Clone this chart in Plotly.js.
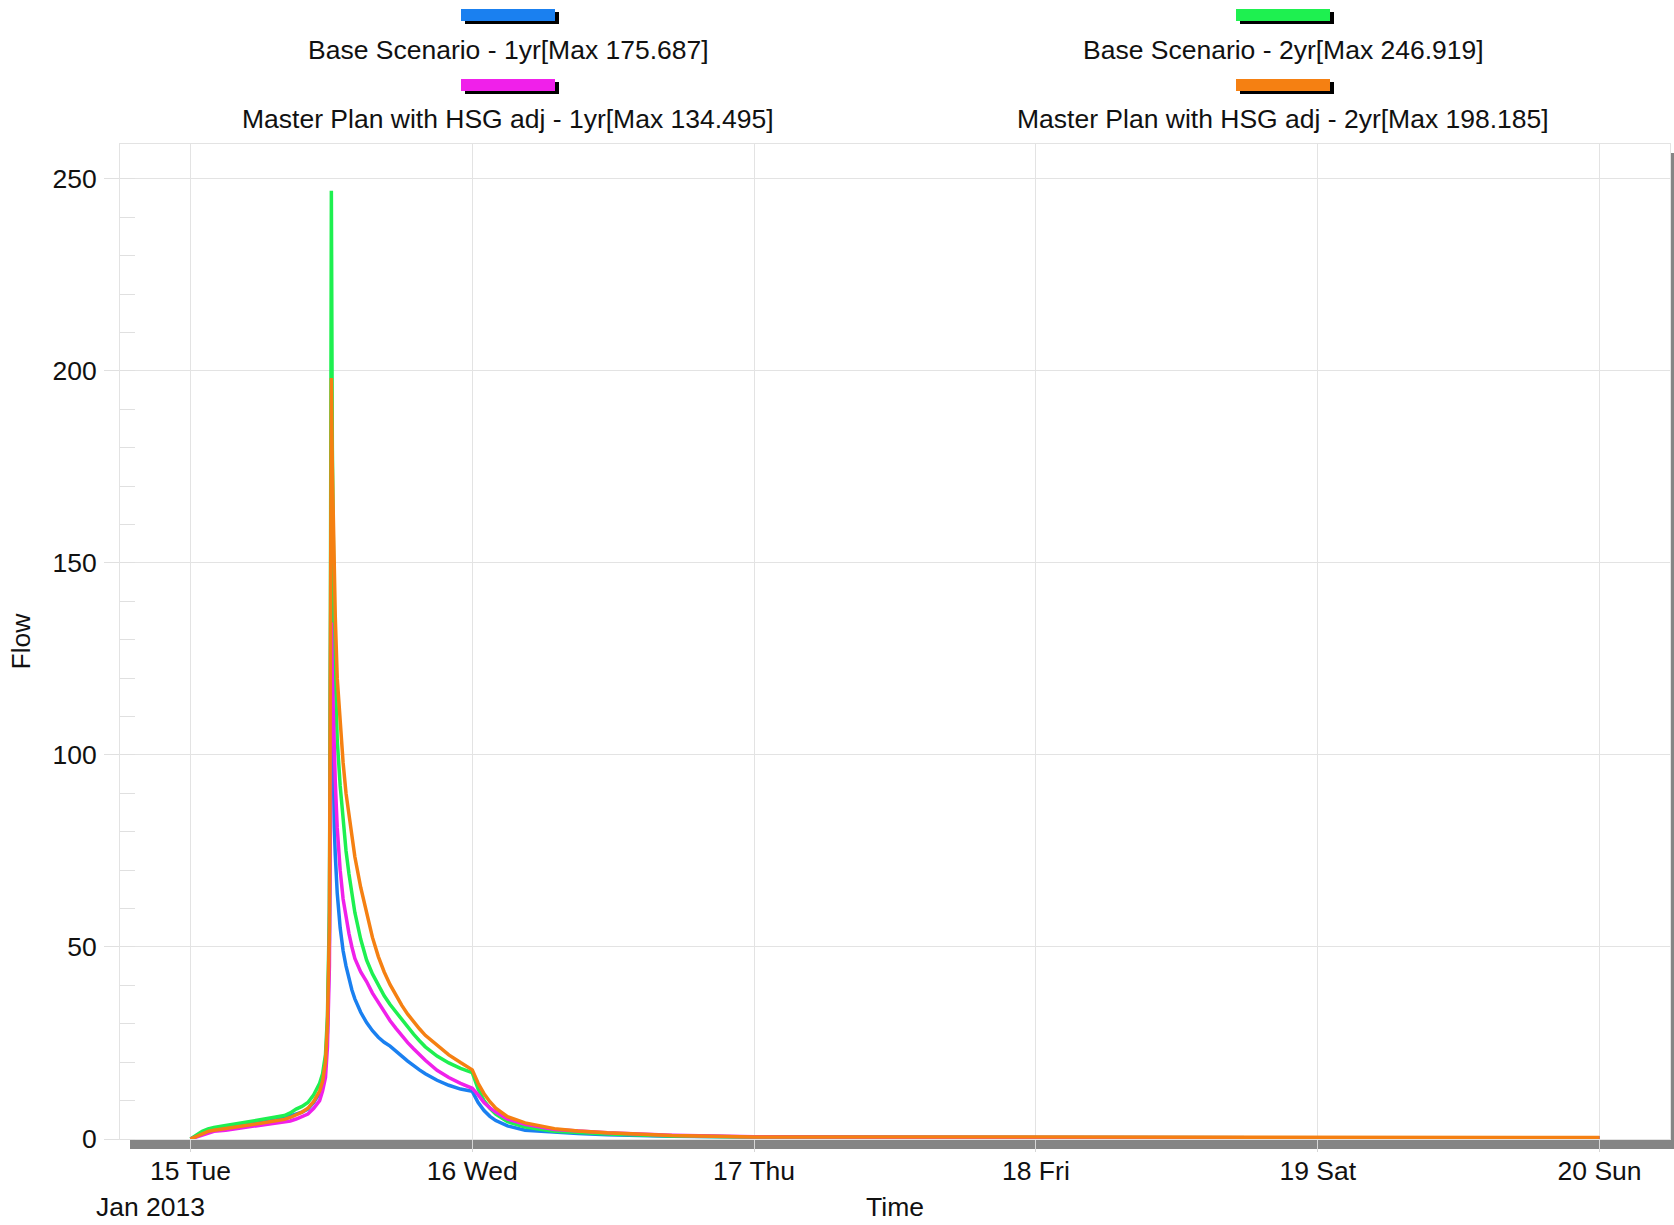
<!DOCTYPE html>
<html>
<head>
<meta charset="utf-8">
<script src="https://cdn.plot.ly/plotly-3.0.1.min.js"></script>
<style>
  html, body { margin: 0; padding: 0; background: #ffffff; }
  #chart { width: 1674px; height: 1225px; }
</style>
</head>
<body>
<div id="chart"></div>
<script>
// ---------------- DATA ----------------
const times = [
  '2013-01-15 00:00','2013-01-15 00:30','2013-01-15 01:00','2013-01-15 01:30','2013-01-15 02:00',
  '2013-01-15 03:00','2013-01-15 04:00','2013-01-15 05:00','2013-01-15 06:00','2013-01-15 07:00',
  '2013-01-15 08:00','2013-01-15 08:30','2013-01-15 09:00','2013-01-15 09:30','2013-01-15 10:00',
  '2013-01-15 10:30','2013-01-15 11:00','2013-01-15 11:15','2013-01-15 11:30',
  '2013-01-15 11:40','2013-01-15 11:50','2013-01-15 11:55','2013-01-15 12:00',
  '2013-01-15 12:05','2013-01-15 12:10','2013-01-15 12:15','2013-01-15 12:20','2013-01-15 12:30','2013-01-15 12:45',
  '2013-01-15 13:00','2013-01-15 13:15','2013-01-15 13:30','2013-01-15 13:45','2013-01-15 14:00','2013-01-15 14:30',
  '2013-01-15 15:00','2013-01-15 15:30','2013-01-15 16:00','2013-01-15 16:30','2013-01-15 17:00','2013-01-15 17:30',
  '2013-01-15 18:00','2013-01-15 18:30','2013-01-15 19:00','2013-01-15 19:30','2013-01-15 20:00',
  '2013-01-15 21:00','2013-01-15 22:00','2013-01-15 23:00',
  '2013-01-16 00:00','2013-01-16 00:30','2013-01-16 01:00','2013-01-16 01:30','2013-01-16 02:00','2013-01-16 03:00',
  '2013-01-16 04:30','2013-01-16 07:00','2013-01-16 09:00','2013-01-16 11:30','2013-01-16 17:00',
  '2013-01-17 00:00','2013-01-17 12:00','2013-01-18 00:00','2013-01-19 00:00','2013-01-20 00:00'
];

const baseScenario1yr = [
  0, 0.8, 1.6, 2.2, 2.5, 2.9, 3.3, 3.8, 4.3, 4.8, 5.4, 6.0, 6.5, 7.0, 7.8, 9.5, 12.0, 14.5, 19,
  28, 52, 100, 175.687,
  112, 92, 81, 74, 64, 55,
  49, 45, 41.5, 38.8, 36.5, 33,
  30.3, 28.2, 26.5, 25.2, 24.2, 23.0,
  21.6, 20.3, 19.1, 18.0, 17.0,
  15.3, 14.0, 13.0,
  12.4, 9.5, 7.4, 5.9, 4.8, 3.4, 2.3, 1.7, 1.4, 1.1, 0.7,
  0.5, 0.4, 0.35, 0.3, 0.25
];

const baseScenario2yr = [
  0, 1.0, 2.0, 2.6, 3.0, 3.5, 4.0, 4.5, 5.0, 5.6, 6.1, 6.8, 7.8, 8.5, 9.5, 11.5, 14.5, 17, 22,
  32, 60, 130, 246.919,
  180, 150, 132, 120, 104, 92,
  82, 75, 69, 63.5, 59, 52,
  46.6, 43, 40, 37.3, 35, 33,
  31, 29.1, 27.3, 25.6, 24.0,
  21.6, 19.8, 18.4,
  17.3, 13, 10, 8.0, 6.5, 4.5, 3.1, 2.0, 1.6, 1.3, 0.8,
  0.5, 0.4, 0.35, 0.3, 0.25
];

const masterPlan1yr = [
  0, 0.5, 1.2, 1.7, 2.0, 2.3, 2.7, 3.1, 3.5, 3.9, 4.3, 4.7, 5.2, 5.8, 6.5, 8.0, 10.0, 12.5, 16,
  24, 45, 85, 134.495,
  120, 110, 101, 93, 81, 70,
  62.5, 57.5, 53.5, 50, 47, 43.5,
  41, 38, 35.5, 33, 30.8, 28.8,
  26.9, 25.1, 23.5, 22, 20.5,
  17.9, 16.0, 14.5,
  13.2, 11.5, 9.5, 8.1, 7.0, 5.2, 3.8, 2.5, 2.0, 1.6, 1.0,
  0.6, 0.45, 0.4, 0.32, 0.27
];

const masterPlan2yr = [
  0, 0.7, 1.5, 2.0, 2.3, 2.7, 3.1, 3.6, 4.1, 4.6, 5.1, 5.6, 6.2, 7.0, 8.0, 9.8, 12.5, 15, 20,
  30, 55, 115, 198.185,
  175, 158, 146, 136, 120, 108,
  98, 90, 84, 78, 73.5, 65.5,
  58.5, 52.5, 47.5, 43.5, 40.2, 37.3,
  34.8, 32.5, 30.5, 28.7, 27.0,
  24.3, 21.9, 19.9,
  18.0, 14.5, 11.8, 9.7, 8.0, 5.8, 4.2, 2.7, 2.1, 1.6, 0.9,
  0.55, 0.5, 0.45, 0.42, 0.4
];

const seriesNames = [
  'Base Scenario - 1yr',
  'Base Scenario - 2yr',
  'Master Plan with HSG adj - 1yr',
  'Master Plan with HSG adj - 2yr'
];
const seriesValues = [baseScenario1yr, baseScenario2yr, masterPlan1yr, masterPlan2yr];

const tickDates  = ['2013-01-15','2013-01-16','2013-01-17','2013-01-18','2013-01-19','2013-01-20'];
const tickLabels = ['15 Tue','16 Wed','17 Thu','18 Fri','19 Sat','20 Sun'];
const dateCaption = 'Jan 2013';

// ---------------- STYLE ----------------
const seriesColors = ['#1a80f0', '#1ef050', '#f020ea', '#f58012'];
const FONT = 'Liberation Sans, Arial, Helvetica, sans-serif';
const FS = 26.5;
const TXT = '#111111';
const W = 1674, H = 1225;
const M = { l: 120, r: 4, t: 144, b: 86 };
const PW = W - M.l - M.r, PH = H - M.t - M.b;
const px2x = px => (px - M.l) / PW;
const py2y = py => (H - M.b - py) / PH;

const traces = seriesValues.map((vals, i) => ({
  type: 'scatter',
  mode: 'lines',
  x: times,
  y: vals,
  name: seriesNames[i],
  line: { color: seriesColors[i], width: 3.5 },
  hoverinfo: 'x+y+name'
}));

// custom legend: swatch above centred label, two columns, two rows
const legendPos = [
  { cx: 508,  sy: 9,  ty: 49.5 },
  { cx: 1283, sy: 9,  ty: 49.5 },
  { cx: 508,  sy: 79, ty: 119.5 },
  { cx: 1283, sy: 79, ty: 119.5 }
];
const shapes = [];
const annotations = [];
legendPos.forEach((p, i) => {
  const sw = 94, sh = 12;
  shapes.push({ type: 'rect', xref: 'paper', yref: 'paper', layer: 'above',
    x0: px2x(p.cx - sw / 2 + 4), x1: px2x(p.cx + sw / 2 + 4),
    y0: py2y(p.sy + 3), y1: py2y(p.sy + sh + 3),
    fillcolor: '#000000', line: { width: 0 } });
  shapes.push({ type: 'rect', xref: 'paper', yref: 'paper', layer: 'above',
    x0: px2x(p.cx - sw / 2), x1: px2x(p.cx + sw / 2),
    y0: py2y(p.sy), y1: py2y(p.sy + sh),
    fillcolor: seriesColors[i], line: { width: 0 } });
  const mx = Math.max.apply(null, seriesValues[i]);
  annotations.push({ xref: 'paper', yref: 'paper', x: px2x(p.cx), y: py2y(p.ty),
    xanchor: 'center', yanchor: 'middle', showarrow: false,
    text: seriesNames[i] + '[Max ' + mx.toFixed(3) + ']',
    font: { family: FONT, size: FS, color: TXT } });
});

// drop shadow of plot frame (bottom and right)
const shadowColor = '#858585';
shapes.push({ type: 'rect', xref: 'paper', yref: 'paper', layer: 'below',
  x0: px2x(130), x1: px2x(1690), y0: py2y(1149), y1: py2y(1139.5),
  fillcolor: shadowColor, line: { width: 0 } });
shapes.push({ type: 'rect', xref: 'paper', yref: 'paper', layer: 'below',
  x0: px2x(1670.5), x1: px2x(1690), y0: py2y(1149), y1: py2y(153),
  fillcolor: shadowColor, line: { width: 0 } });

annotations.push({ xref: 'paper', yref: 'paper', x: px2x(150), y: py2y(1207),
  xanchor: 'center', yanchor: 'middle', showarrow: false, text: dateCaption,
  font: { family: FONT, size: FS, color: TXT } });

const layout = {
  width: W, height: H,
  margin: M,
  paper_bgcolor: '#ffffff',
  plot_bgcolor: '#ffffff',
  showlegend: false,
  font: { family: FONT, size: FS, color: TXT },
  xaxis: {
    type: 'date',
    range: ['2013-01-14 18:00', '2013-01-20 06:00'],
    tickmode: 'array',
    tickvals: tickDates,
    ticktext: tickLabels,
    showgrid: true, gridcolor: '#e3e3e3', gridwidth: 1,
    ticks: 'outside', ticklen: 12, tickcolor: '#d6d6d6', tickwidth: 1,
    ticklabelstandoff: -4,
    showline: true, linecolor: '#e3e3e3', linewidth: 1, mirror: true,
    zeroline: false,
    tickfont: { family: FONT, size: FS, color: TXT },
    title: { text: 'Time', standoff: 12, font: { family: FONT, size: FS, color: TXT } }
  },
  yaxis: {
    range: [0, 259.1],
    tickmode: 'linear', tick0: 0, dtick: 50,
    showgrid: true, gridcolor: '#e3e3e3', gridwidth: 1,
    ticks: 'outside', ticklen: 15, tickcolor: '#e0e0e0', tickwidth: 1,
    ticklabelstandoff: 2,
    minor: { dtick: 10, ticks: 'inside', ticklen: 15, tickcolor: '#e0e0e0', tickwidth: 1, showgrid: false },
    showline: true, linecolor: '#e3e3e3', linewidth: 1, mirror: true,
    zeroline: false,
    tickfont: { family: FONT, size: FS, color: TXT },
    title: { text: 'Flow', standoff: 14, font: { family: FONT, size: FS, color: TXT } }
  },
  shapes: shapes,
  annotations: annotations
};

Plotly.newPlot('chart', traces, layout, { displayModeBar: false, responsive: false });
</script>
</body>
</html>
